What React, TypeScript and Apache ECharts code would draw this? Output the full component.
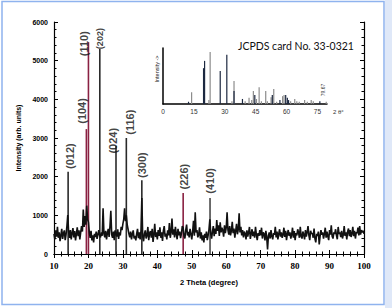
import React, { useEffect, useRef } from "react";
import * as echarts from "echarts";

// Measured XRD pattern: intensity every 0.25 deg from 10 to 100 (2 theta)
const THETA_START = 10;
const THETA_STEP = 0.25;
const intensity = [
  520, 380, 610, 450, 700, 420, 560, 330, 480, 650, 390, 540, 610, 360, 500, 720,
  1010, 560, 420, 620, 380, 540, 670, 430, 590, 350, 520, 690, 460, 610, 380, 560,
  720, 580, 1150, 700, 980, 760, 1250, 900, 820, 560, 420, 600, 350, 480, 300, 520,
  440, 580, 390, 500, 620, 480, 430, 560, 470, 1180, 520, 430, 600, 380, 540, 650,
  440, 720, 1120, 500, 420, 580, 360, 610, 520, 450, 640, 390, 560, 480, 700, 620,
  780, 900, 1180, 850, 1000, 760, 640, 520, 430, 580, 380, 520, 610, 400, 470, 350,
  520, 650, 410, 560, 380, 600, 1450, 450, 330, 520, 610, 400, 480, 700, 360, 540,
  590, 420, 650, 310, 500, 780, 440, 560, 380, 620, 470, 690, 420, 560, 340, 600,
  720, 450, 530, 380, 610, 480, 800, 420, 560, 920, 500, 640, 430, 700, 520, 380,
  650, 480, 580, 410, 530, 720, 680, 460, 400, 620, 760, 480, 570, 430, 650, 520,
  380, 580, 860, 470, 1080, 560, 620, 430, 500, 690, 400, 560, 350, 480, 300, 520,
  420, 580, 360, 480, 640, 900, 520, 400, 580, 720, 460, 660, 520, 880, 600, 740,
  470, 820, 560, 680, 610, 450, 740, 540, 680, 1080, 620, 500, 720, 480, 600, 830,
  540, 660, 420, 600, 780, 510, 640, 1050, 560, 700, 480, 620, 430, 580, 520, 380,
  610, 450, 560, 700, 390, 520, 640, 460, 580, 420, 700, 500, 360, 540, 470, 620,
  480, 680, 400, 560, 520, 350, 600, 440, 120, 480, 560, 400, 620, 460, 380, 540,
  500, 700, 430, 580, 380, 520, 640, 450, 560, 420, 500, 680, 440, 600, 360, 520,
  620, 470, 560, 400, 500, 680, 420, 590, 360, 540, 480, 640, 560, 420, 700, 460,
  400, 580, 500, 380, 620, 450, 560, 720, 480, 360, 600, 520, 540, 420, 660, 400,
  300, 520, 470, 580, 250, 460, 620, 500, 560, 400, 520, 680, 420, 580, 460, 360,
  620, 500, 740, 460, 400, 560, 520, 640, 480, 380, 700, 520, 560, 440, 600, 400,
  500, 720, 470, 560, 380, 580, 660, 460, 620, 440, 520, 700, 460, 600, 400, 560,
  540, 680, 480, 720, 500, 620, 560, 600, 520,
];

// Indexed reflections (hkl), peak position and peak height
const peakNames = ["(012)", "(104)", "(110)", "(202)", "(024)", "(116)", "(300)", "(226)", "(410)"];
const peakTheta = [14.1, 19.4, 20.0, 23.3, 28.0, 31.0, 35.5, 47.5, 55.3];
const peakHeight = [2130, 3230, 5480, 5300, 2790, 3000, 1910, 1580, 1450];
const peakColorKey = ["dark", "maroon", "maroon", "dark", "dark", "dark", "dark", "maroon", "grey"];
// Where each hkl label sits (2 theta, intensity)
const labelTheta = [14.65, 18.1, 18.7, 23.4, 27.1, 32.1, 35.5, 47.8, 55.3];
const labelIntensity = [2530, 3700, 5440, 5570, 2930, 3410, 2300, 2000, 1890];
const labelSize = [11, 11, 11, 9, 11, 11, 11, 11, 11];

// JCPDS 33-0321 reference sticks (2 theta, relative intensity)
const refDarkTheta = [12.4, 19.7, 20.2, 27.8, 31.0, 34.5, 38.6, 44.6, 53.1, 56.8, 59.6, 60.4, 61.0, 76.2];
const refDarkI = [4, 64, 77, 59, 88, 23, 9, 16, 16, 7, 16, 11, 7, 5];
const refGreyTheta = [13.9, 22.3, 22.9, 33.5, 34.5, 39.9, 41.8, 43.1, 43.9, 45.4, 46.7, 47.8, 49.9, 50.7, 52.5, 53.8, 55.2, 58.1, 58.8, 62.0, 64.0, 65.0, 66.2, 68.8, 70.1, 72.0, 73.0, 79.3];
const refGreyI = [21, 7, 93, 5, 41, 5, 11, 7, 23, 9, 30, 5, 23, 5, 12, 27, 4, 14, 16, 5, 9, 5, 4, 7, 4, 7, 5, 4];

const xTicks = [10, 100, 10];
const yTicks = [0, 6000, 1000];
const insetTicks = [0, 79.67, 15];

const COLORS: Record<string, string> = { dark: "#2a2a2a", maroon: "#8a2142", grey: "#4a4a4a" };

export default function App() {
  const ref = useRef<HTMLDivElement>(null);
  useEffect(() => {
    if (!ref.current) return;
    const chart = echarts.init(ref.current, null, { renderer: "svg" });
    const pattern = intensity.map((v, i) => [THETA_START + i * THETA_STEP, v]);
    const sticks = peakTheta.map((t, i) => ({
      value: [t, peakHeight[i]],
      itemStyle: { color: COLORS[peakColorKey[i]] },
    }));
    const labels = peakNames.map((n, i) => ({
      name: n,
      value: [labelTheta[i], labelIntensity[i]],
      label: { fontSize: labelSize[i] },
    }));
    const axisBase = {
      axisLine: { show: true, lineStyle: { color: "#000", width: 1.2 } },
      splitLine: { show: false },
    };
    chart.setOption({
      animation: false,
      backgroundColor: "#fff",
      grid: [
        { left: 54, top: 22, width: 310, height: 232 },
        { left: 163, top: 48, width: 164, height: 56 },
      ],
      xAxis: [
        {
          ...axisBase,
          type: "value", gridIndex: 0, min: xTicks[0], max: xTicks[1], interval: xTicks[2],
          position: "bottom",
          axisTick: { show: true, inside: true, length: 4, lineStyle: { color: "#000" } },
          minorTick: { show: true, splitNumber: 5, length: 2.5, lineStyle: { color: "#000" } },
          axisLabel: { fontFamily: "Liberation Serif", fontWeight: "bold", fontSize: 9, color: "#000", margin: 7 },
          name: "2 Theta (degree)", nameLocation: "middle", nameGap: 24,
          nameTextStyle: { fontFamily: "Liberation Sans", fontWeight: "bold", fontSize: 7.5, color: "#000" },
        },
        {
          ...axisBase,
          type: "value", gridIndex: 0, min: xTicks[0], max: xTicks[1], interval: xTicks[2],
          position: "top",
          axisTick: { show: true, inside: true, length: 4, lineStyle: { color: "#000" } },
          minorTick: { show: true, splitNumber: 5, length: 2.5, lineStyle: { color: "#000" } },
          axisLabel: { show: false },
        },
        {
          type: "value", gridIndex: 1, min: insetTicks[0], max: insetTicks[1], interval: insetTicks[2],
          axisLine: { show: true, lineStyle: { color: "#000", width: 1.5 } },
          axisTick: { show: false }, splitLine: { show: false },
          axisLabel: { fontFamily: "Liberation Sans", fontSize: 6.5, color: "#333", margin: 4 },
        },
      ],
      yAxis: [
        {
          ...axisBase,
          type: "value", gridIndex: 0, min: yTicks[0], max: yTicks[1], interval: yTicks[2],
          position: "left",
          axisTick: { show: true, inside: true, length: 4, lineStyle: { color: "#000" } },
          minorTick: { show: true, splitNumber: 5, length: 2.5, lineStyle: { color: "#000" } },
          axisLabel: {
            fontFamily: "Liberation Sans", fontWeight: "bold", fontSize: 7, color: "#000", margin: 6,
            formatter: (v: number) => String(v),
          },
          name: "Intensity (arb. units)", nameLocation: "middle", nameGap: 27,
          nameTextStyle: { fontFamily: "Liberation Sans", fontWeight: "bold", fontSize: 7, color: "#000" },
        },
        {
          ...axisBase,
          type: "value", gridIndex: 0, min: yTicks[0], max: yTicks[1], interval: yTicks[2],
          position: "right",
          axisTick: { show: true, inside: true, length: 4, lineStyle: { color: "#000" } },
          minorTick: { show: true, splitNumber: 5, length: 2.5, lineStyle: { color: "#000" } },
          axisLabel: { show: false },
        },
        {
          type: "value", gridIndex: 1, min: 0, max: 100,
          axisLine: { show: true, lineStyle: { color: "#000", width: 1.5 } },
          axisTick: { show: false }, splitLine: { show: false }, axisLabel: { show: false },
        },
      ],
      series: [
        {
          type: "line", xAxisIndex: 0, yAxisIndex: 0, data: pattern, showSymbol: false,
          lineStyle: { color: "#111", width: 1.6 }, silent: true,
        },
        {
          type: "bar", xAxisIndex: 0, yAxisIndex: 0, data: sticks, barWidth: 1.6, silent: true,
        },
        {
          type: "scatter", xAxisIndex: 0, yAxisIndex: 0, data: labels, symbolSize: 0, silent: true,
          label: {
            show: true, position: "inside", rotate: 90, formatter: (p: any) => p.name,
            fontFamily: "Liberation Sans", fontWeight: "bold", color: "#111",
          },
        },
        {
          type: "bar", xAxisIndex: 2, yAxisIndex: 2, barWidth: 1.2, barGap: "-100%", silent: true,
          data: refGreyTheta.map((t, i) => [t, refGreyI[i]]), itemStyle: { color: "#8c8c8c" },
        },
        {
          type: "bar", xAxisIndex: 2, yAxisIndex: 2, barWidth: 1.2, barGap: "-100%", silent: true,
          data: refDarkTheta.map((t, i) => [t, refDarkI[i]]), itemStyle: { color: "#1c2840" },
        },
      ],
      graphic: [
        { type: "rect", shape: { x: 385, y: 0, width: 7, height: 308 }, style: { fill: "#dfe8f8" }, silent: true },
        { type: "rect", shape: { x: 2, y: 1.5, width: 382, height: 303 }, style: { fill: "none", stroke: "#8fb3ee", lineWidth: 1.5 }, silent: true },
        {
          type: "text", x: 238, y: 46,
          style: { text: "JCPDS card No. 33-0321", font: "10.5px Lato", fill: "#111", textVerticalAlign: "middle" },
        },
        {
          type: "text", x: 157, y: 69, rotation: Math.PI / 2,
          style: { text: "Intensity ->", font: "5.5px 'Liberation Sans'", fill: "#222", textAlign: "center", textVerticalAlign: "middle" },
        },
        {
          type: "text", x: 333, y: 112,
          style: { text: "2 θ°", font: "6px 'Liberation Sans'", fill: "#333", textVerticalAlign: "middle" },
        },
        {
          type: "text", x: 323, y: 90, rotation: Math.PI / 2,
          style: { text: "79.67", font: "5px 'Liberation Sans'", fill: "#333", textAlign: "center", textVerticalAlign: "middle" },
        },
      ],
    });
    return () => chart.dispose();
  }, []);
  return <div ref={ref} style={{ position: "fixed", left: 0, top: 0, width: 392, height: 308 }} />;
}
